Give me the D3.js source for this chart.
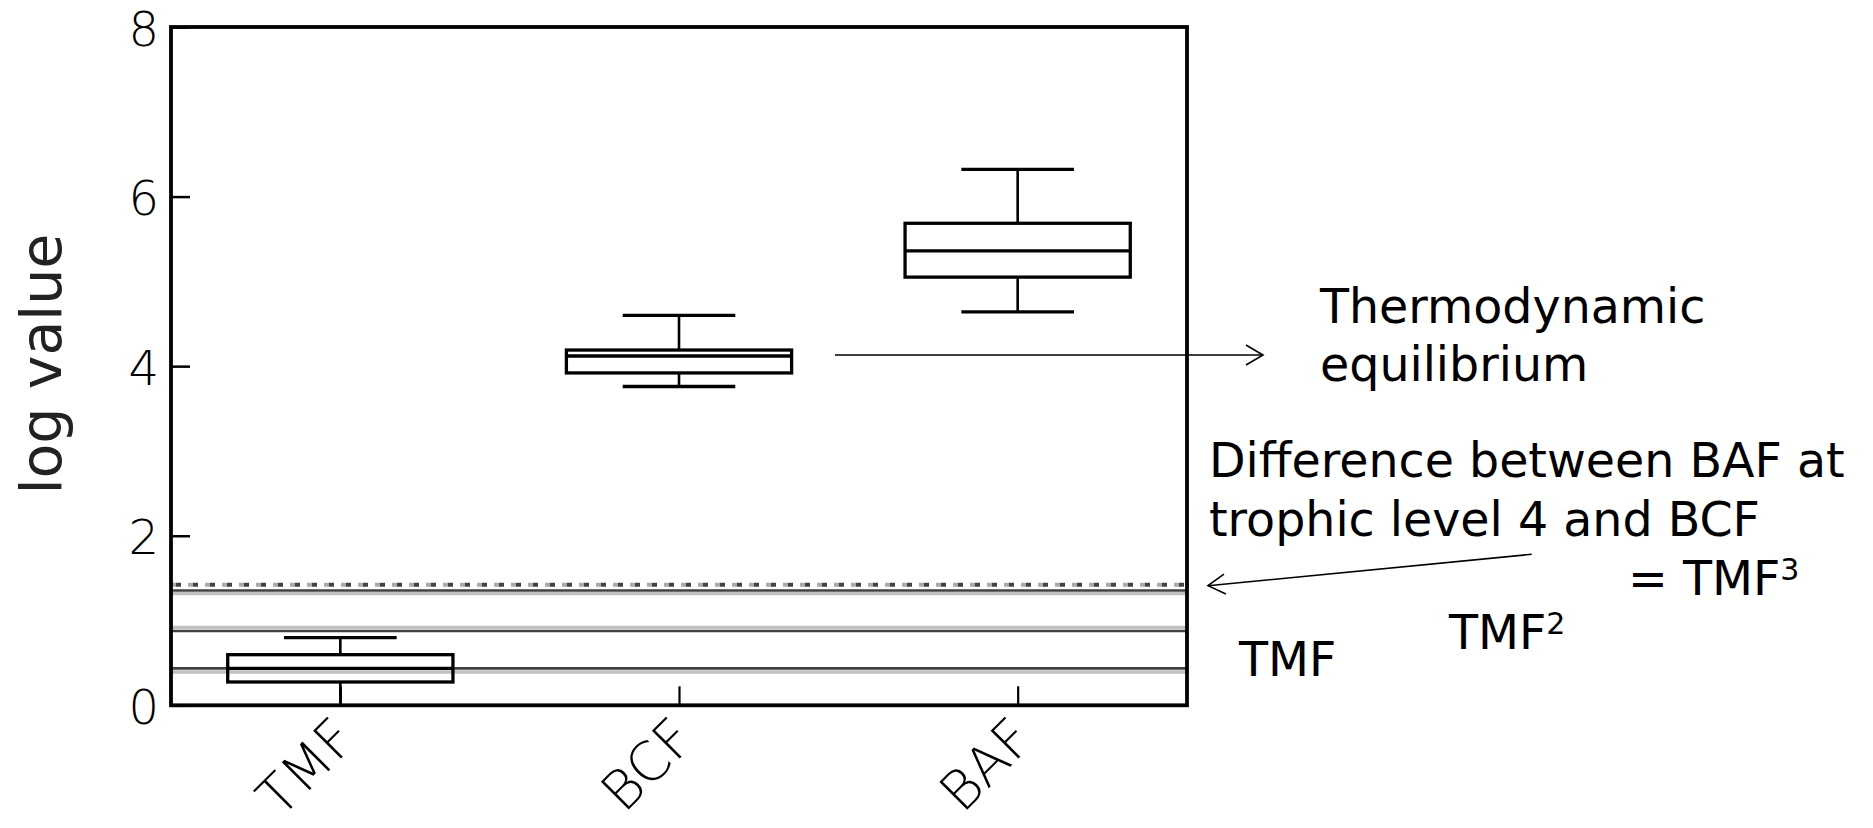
<!DOCTYPE html>
<html>
<head>
<meta charset="utf-8">
<script src="https://cdn.jsdelivr.net/npm/d3@7"></script>
<style>
  html, body { margin: 0; padding: 0; background: #fff; }
  svg { display: block; }
</style>
</head>
<body>
<svg id="chart" width="1873" height="828"></svg>
<script>
// ---------------- data ----------------
const categories   = ["TMF", "BCF", "BAF"];
const whiskerLow   = [-0.30, 3.76, 4.64];
const quartile1    = [0.275, 3.92, 5.05];
const medians      = [0.436, 4.12, 5.36];
const quartile3    = [0.597, 4.19, 5.685];
const whiskerHigh  = [0.797, 4.60, 6.32];

const yTicks       = [0, 2, 4, 6, 8];
const refDark      = [0.436, 0.876, 1.354];   // TMF, TMF^2, TMF^3 lines
const refGray      = [0.393, 0.918, 1.316];
const refDotted    = [1.422];

const notes = [
  {lines: ["Thermodynamic", "equilibrium"]},
  {lines: ["Difference between BAF at", "trophic level 4 and BCF"]}
];

// ---------------- layout ----------------
const svg = d3.select("#chart");
const L = 171, R = 1187, T = 27, B = 705.3;

const x = d3.scalePoint().domain(categories).range([L, R]).padding(0.5);
const y = d3.scaleLinear().domain([0, 8]).range([B, T]);
const step = x.step();
const boxW = step * 0.665;
const capW = boxW / 2;

const fontMain = "'DejaVu Sans', Verdana, sans-serif";

// clip
svg.append("clipPath").attr("id", "plotclip")
  .append("rect").attr("x", L).attr("y", T).attr("width", R - L).attr("height", B - T);

const plot = svg.append("g").attr("clip-path", "url(#plotclip)");

// reference lines
plot.selectAll("line.gray").data(refGray).join("line")
  .attr("x1", L).attr("x2", R)
  .attr("y1", d => y(d)).attr("y2", d => y(d))
  .attr("stroke", "#c0c0c0").attr("stroke-width", 3.3);
plot.selectAll("line.dark").data(refDark).join("line")
  .attr("x1", L).attr("x2", R)
  .attr("y1", d => y(d)).attr("y2", d => y(d))
  .attr("stroke", "#404040").attr("stroke-width", 2.6);
plot.selectAll("line.dotg").data(refDotted).join("line")
  .attr("x1", L).attr("x2", R)
  .attr("y1", d => y(d)).attr("y2", d => y(d))
  .attr("stroke", "#aaaaaa").attr("stroke-width", 4)
  .attr("stroke-dasharray", "5,12");
plot.selectAll("line.dotd").data(refDotted).join("line")
  .attr("x1", L).attr("x2", R)
  .attr("y1", d => y(d)).attr("y2", d => y(d))
  .attr("stroke", "#444444").attr("stroke-width", 4)
  .attr("stroke-dasharray", "5,12").attr("stroke-dashoffset", -5);

// boxes
const idx = d3.range(categories.length);
const g = plot.append("g").attr("fill", "none").attr("stroke", "#000");
g.selectAll("line.wl").data(idx).join("line")
  .attr("x1", i => x(categories[i])).attr("x2", i => x(categories[i]))
  .attr("y1", i => y(whiskerLow[i])).attr("y2", i => y(quartile1[i]))
  .attr("stroke-width", 2.6);
g.selectAll("line.wh").data(idx).join("line")
  .attr("x1", i => x(categories[i])).attr("x2", i => x(categories[i]))
  .attr("y1", i => y(whiskerHigh[i])).attr("y2", i => y(quartile3[i]))
  .attr("stroke-width", 2.6);
g.selectAll("line.capL").data(idx).join("line")
  .attr("x1", i => x(categories[i]) - capW / 2).attr("x2", i => x(categories[i]) + capW / 2)
  .attr("y1", i => y(whiskerLow[i])).attr("y2", i => y(whiskerLow[i]))
  .attr("stroke-width", 3.3);
g.selectAll("line.capH").data(idx).join("line")
  .attr("x1", i => x(categories[i]) - capW / 2).attr("x2", i => x(categories[i]) + capW / 2)
  .attr("y1", i => y(whiskerHigh[i])).attr("y2", i => y(whiskerHigh[i]))
  .attr("stroke-width", 3.3);
g.selectAll("rect.box").data(idx).join("rect")
  .attr("x", i => x(categories[i]) - boxW / 2).attr("width", boxW)
  .attr("y", i => y(quartile3[i])).attr("height", i => y(quartile1[i]) - y(quartile3[i]))
  .attr("stroke-width", 3.3);
g.selectAll("line.med").data(idx).join("line")
  .attr("x1", i => x(categories[i]) - boxW / 2).attr("x2", i => x(categories[i]) + boxW / 2)
  .attr("y1", i => y(medians[i])).attr("y2", i => y(medians[i]))
  .attr("stroke-width", 3.3);

// axes
const yAxis = d3.axisLeft(y).tickValues(yTicks).tickSizeInner(-19).tickSizeOuter(0).tickPadding(12);
const ya = svg.append("g").attr("transform", `translate(${L},0)`).call(yAxis);
ya.select(".domain").remove();
ya.selectAll(".tick line").attr("stroke", "#000").attr("stroke-width", 2.5);
ya.selectAll(".tick text")
  .attr("font-family", fontMain).attr("font-weight", 200).attr("font-size", 48)
  .attr("fill", "#000").attr("dy", "0.38em");

const xAxis = d3.axisBottom(x).tickSizeInner(-19).tickSizeOuter(0).tickFormat("");
const xa = svg.append("g").attr("transform", `translate(0,${B})`).call(xAxis);
xa.select(".domain").remove();
xa.selectAll(".tick line").attr("stroke", "#000").attr("stroke-width", 2.2);

svg.append("g").selectAll("text").data(categories).join("text")
  .attr("transform", d => `translate(${x(d) + 18},${B + 36}) rotate(-45)`)
  .attr("text-anchor", "end")
  .attr("font-family", fontMain).attr("font-weight", 200).attr("font-size", 54)
  .attr("fill", "#000")
  .text(d => d);

// frame
svg.append("rect").attr("x", L).attr("y", T).attr("width", R - L).attr("height", B - T)
  .attr("fill", "none").attr("stroke", "#000").attr("stroke-width", 3.8);

// y title
svg.append("text")
  .attr("transform", `translate(61,364) rotate(-90)`)
  .attr("text-anchor", "middle")
  .attr("font-family", fontMain).attr("font-size", 57).attr("fill", "#222")
  .text("log value");

// annotations
const ann = svg.append("g").attr("font-family", fontMain).attr("font-size", 47.5).attr("fill", "#000");
ann.append("text").attr("x", 1320).attr("y", 323).text(notes[0].lines[0]);
ann.append("text").attr("x", 1320).attr("y", 381).text(notes[0].lines[1]);
ann.append("text").attr("x", 1209).attr("y", 477).text(notes[1].lines[0]);
ann.append("text").attr("x", 1209).attr("y", 536).text(notes[1].lines[1]);
const t3 = ann.append("text").attr("x", 1628).attr("y", 595);
t3.append("tspan").text("= TMF");
t3.append("tspan").attr("font-size", 30).attr("dy", -15).text("3");
const t2 = ann.append("text").attr("x", 1449).attr("y", 649);
t2.append("tspan").text("TMF");
t2.append("tspan").attr("font-size", 30).attr("dy", -15).text("2");
ann.append("text").attr("x", 1239).attr("y", 676).text("TMF");

// arrows
function arrow(x1, y1, x2, y2) {
  const a = svg.append("g").attr("stroke", "#000").attr("stroke-width", 1.6).attr("fill", "none");
  a.append("line").attr("x1", x1).attr("y1", y1).attr("x2", x2).attr("y2", y2);
  const ang = Math.atan2(y2 - y1, x2 - x1);
  const len = 17, hw = 10;
  const bx = x2 - len * Math.cos(ang), by = y2 - len * Math.sin(ang);
  const px = -Math.sin(ang), py = Math.cos(ang);
  a.append("path").attr("d",
    `M${bx + hw * px},${by + hw * py} L${x2},${y2} L${bx - hw * px},${by - hw * py}`);
}
arrow(835, 355, 1263, 355);
arrow(1531.7, 554.3, 1208, 585.7);
</script>
</body>
</html>
